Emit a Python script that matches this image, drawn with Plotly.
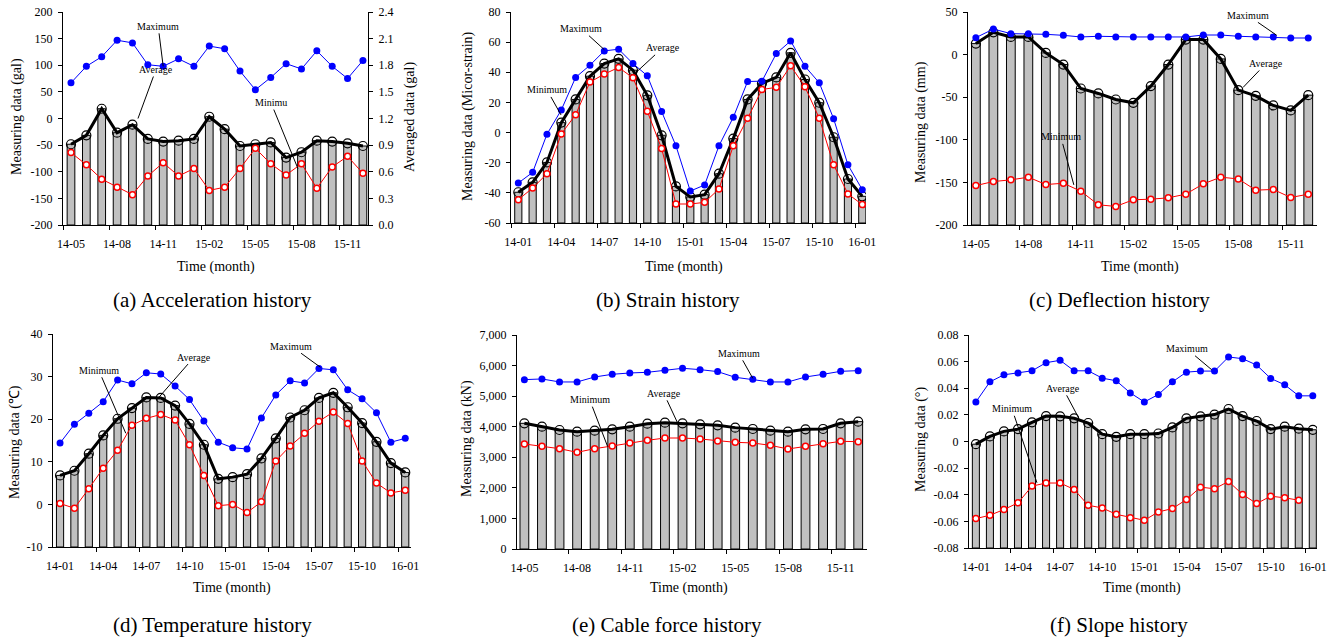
import plotly.graph_objects as go

W, H = 1337, 640

# ---------------- data ----------------
months_20 = ['14-05', '14-06', '14-07', '14-08', '14-09', '14-10', '14-11', '14-12',
             '15-01', '15-02', '15-03', '15-04', '15-05', '15-06', '15-07', '15-08',
             '15-09', '15-10', '15-11', '15-12']
months_25 = ['14-01', '14-02', '14-03', '14-04', '14-05', '14-06', '14-07', '14-08',
             '14-09', '14-10', '14-11', '14-12', '15-01', '15-02', '15-03', '15-04',
             '15-05', '15-06', '15-07', '15-08', '15-09', '15-10', '15-11', '15-12', '16-01']
tick_labels_20 = ['14-05', '14-08', '14-11', '15-02', '15-05', '15-08', '15-11']
tick_labels_25 = ['14-01', '14-04', '14-07', '14-10', '15-01', '15-04', '15-07', '15-10', '16-01']

# (a) acceleration
acc_max = [67, 98, 116, 147, 142, 101, 98, 112, 98, 136, 131, 89, 54, 77, 103, 93, 127, 98, 75, 109]
acc_min = [-64, -87, -114, -129, -143, -108, -83, -108, -94, -135, -129, -94, -56, -85, -106, -85,
           -131, -91, -71, -103]
acc_avg = [0.91, 1.01, 1.31, 1.04, 1.13, 0.97, 0.94, 0.95, 0.97, 1.22, 1.08, 0.89, 0.91, 0.93,
           0.76, 0.82, 0.95, 0.94, 0.92, 0.89]
# (b) strain
strain_max = [-33.5, -26.4, -1.1, 15, 36.6, 44.7, 54.2, 55.3, 45.8, 37.7, 13.9, -8.8, -38.8, -34.8,
              -8.8, 10.1, 33.9, 34.1, 52.4, 60.8, 44, 33, 9.2, -21.4, -37.9]
strain_avg = [-39.6, -33, -19.8, 6.6, 22, 37.4, 45.8, 48.9, 41.4, 24.7, -1.8, -35.7, -42.7, -41.2,
              -27.3, -4, 22, 32.6, 36.6, 52.9, 35.2, 19.8, -3.1, -30.8, -42.3]
strain_min = [-44.5, -36.8, -27.3, -0.9, 11.9, 33.5, 38.8, 43.2, 36.3, 14.1, -10.6, -47.4, -47.4,
              -46.3, -37.4, -8.8, 9.5, 28.6, 30, 44.3, 30.4, 9.5, -21.4, -40.7, -47.8]
# (c) deflection
defl_max = [19.9, 30, 24.6, 24.6, 23.8, 22.6, 20.7, 21.5, 20.7, 20.7, 20.7, 20.7, 20.7, 23, 23,
            21.5, 20.7, 20.7, 19.5, 19.5]
defl_avg = [12.9, 26.1, 20.7, 20.7, 2, -11.7, -39.8, -45.6, -52.7, -56.6, -37, -11.7, 17.6, 17.6,
            -5.1, -41.7, -48.4, -59.7, -65.5, -47.6]
defl_min = [-153.7, -149, -147, -143.9, -152.5, -151, -160.3, -176.3, -178.2, -170.4, -169.7,
            -168.1, -163.8, -151.7, -143.9, -145.9, -159.1, -158.3, -167.7, -163.8]
# (d) temperature
temp_max = [14.4, 18.8, 21.4, 24.1, 29.2, 28.3, 30.9, 30.6, 27.8, 24.6, 19.6, 14.6, 13.3, 13, 20.3,
            25.7, 29, 28.5, 31.9, 31.6, 26.9, 24.8, 21.5, 14.6, 15.5]
temp_avg = [6.8, 7.9, 11.9, 16.2, 20.1, 22.6, 25.1, 25, 23.2, 18.9, 14, 6, 6.4, 7.1, 10.8, 15.5,
            20.4, 22.1, 25, 26.2, 22.8, 19.1, 14.7, 9.7, 7.5]
temp_min = [0.2, -0.9, 3.7, 8.5, 12.7, 18.6, 20.2, 21.1, 19.8, 14, 6.8, -0.3, 0, -1.9, 0.6, 10.2,
            13.7, 16.7, 19.5, 21.7, 19, 10.2, 5, 2.7, 3.3]
# (e) cable force
cable_max = [5540, 5562, 5464, 5464, 5627, 5714, 5758, 5780, 5845, 5911, 5867, 5802, 5616, 5551,
             5464, 5464, 5627, 5714, 5812, 5834]
cable_avg = [4111, 4002, 3893, 3839, 3871, 3915, 4002, 4100, 4133, 4111, 4079, 4046, 3970, 3926,
             3871, 3839, 3915, 3926, 4111, 4166]
cable_min = [3435, 3359, 3282, 3162, 3282, 3370, 3468, 3555, 3631, 3631, 3599, 3533, 3490, 3468,
             3391, 3272, 3359, 3446, 3522, 3511]
# (f) slope
slope_max = [0.0297, 0.0448, 0.0501, 0.0514, 0.0531, 0.0592, 0.061, 0.0531, 0.0531, 0.0476, 0.0456,
             0.0365, 0.0297, 0.0353, 0.0448, 0.0521, 0.0529, 0.0529, 0.0635, 0.0622, 0.0574, 0.0474,
             0.0426, 0.0343, 0.0343]
slope_avg = [-0.002, 0.0038, 0.0076, 0.0093, 0.0144, 0.0191, 0.0189, 0.0174, 0.0139, 0.0055, 0.0035,
             0.0055, 0.0055, 0.006, 0.0106, 0.0174, 0.0189, 0.0202, 0.0244, 0.0191, 0.0154, 0.0093,
             0.0111, 0.0096, 0.0088]
slope_min = [-0.0579, -0.0554, -0.0511, -0.0461, -0.0335, -0.0312, -0.0312, -0.036, -0.0479, -0.0499,
             -0.0547, -0.0572, -0.0592, -0.0529, -0.0504, -0.0436, -0.0343, -0.0355, -0.03, -0.0398,
             -0.0466, -0.0411, -0.0423, -0.0441]

acc_yticks = [-200, -150, -100, -50, 0, 50, 100, 150, 200]
acc_y2ticks = [0.0, 0.3, 0.6, 0.9, 1.2, 1.5, 1.8, 2.1, 2.4]
strain_yticks = [-60, -40, -20, 0, 20, 40, 60, 80]
defl_yticks = [-200, -150, -100, -50, 0, 50]
temp_yticks = [-10, 0, 10, 20, 30, 40]
cable_yticks = [0, 1000, 2000, 3000, 4000, 5000, 6000, 7000]
slope_yticks = [-0.08, -0.06, -0.04, -0.02, 0, 0.02, 0.04, 0.06, 0.08]

# ---------------- styling / layout ----------------
FONT = "Liberation Serif"
BLACK = "#000000"


def px(x):
    return x / W


def py(y):
    return 1 - y / H


def fmt_int(v):
    return str(int(v))


def fmt_comma(v):
    return f"{int(v):,}"


def fmt_slope(v):
    return "0" if abs(v) < 1e-12 else f"{v:.2f}"


def fmt_1f(v):
    return f"{v:.1f}"


panels = [
    dict(months=months_20, ticks=tick_labels_20, mx=acc_max, avg=acc_avg, mn=acc_min,
         yt=acc_yticks, yfmt=fmt_int, xpx=(63, 368), ypx=(12, 225), xr=(-0.52, 19.33),
         ytitle="Measuring data (gal)", ytpos=(17, 117), xtpos=(216, 267),
         cap="(a) Acceleration history", cappos=(212, 300),
         ann=[("Maximum", 6, 98, -5, -40), ("Average", 4.36, 0, 18, -49),
              ("Minimu", 14.77, -94, -27, -66)]),
    dict(months=months_25, ticks=tick_labels_25, mx=strain_max, avg=strain_avg, mn=strain_min,
         yt=strain_yticks, yfmt=fmt_int, xpx=(511, 866), ypx=(12, 223), xr=(-0.51, 24.26),
         ytitle="Measuring data (Micor-strain)", ytpos=(468, 116), xtpos=(684, 267),
         cap="(b) Strain history", cappos=(668, 300),
         ann=[("Maximum", 6, 55, -23, -21), ("Average", 8.26, 40.3, 26, -24),
              ("Minimum", 2.98, 11.7, -14, -25)]),
    dict(months=months_20, ticks=tick_labels_20, mx=defl_max, avg=defl_avg, mn=defl_min,
         yt=defl_yticks, yfmt=fmt_int, xpx=(968, 1317), ypx=(12, 225), xr=(-0.45, 19.5),
         ytitle="Measuring data (mm)", ytpos=(921, 122), xtpos=(1140, 267),
         cap="(c) Deflection history", cappos=(1119, 300),
         ann=[("Maximum", 17.2, 22.6, -29, -20), ("Average", 15.27, -38.6, 23, -24),
              ("Minimum", 5.6, -152.9, -13, -48)]),
    dict(months=months_25, ticks=tick_labels_25, mx=temp_max, avg=temp_avg, mn=temp_min,
         yt=temp_yticks, yfmt=fmt_int, xpx=(53, 411), ypx=(334, 547), xr=(-0.49, 24.4),
         ytitle="Measuring data (\u2103)", ytpos=(15, 442), xtpos=(232, 588),
         cap="(d) Temperature history", cappos=(212, 625),
         ann=[("Minimum", 4.57, 16.7, -27, -63), ("Average", 6.89, 25.2, 35, -40),
              ("Maximum", 18.1, 32.2, -29, -21)]),
    dict(months=months_20, ticks=tick_labels_20, mx=cable_max, avg=cable_avg, mn=cable_min,
         yt=cable_yticks, yfmt=fmt_comma, xpx=(517, 867), ypx=(335, 549), xr=(-0.42, 19.5),
         ytitle="Measuring data (kN)", ytpos=(467, 439), xtpos=(689, 588),
         cap="(e) Cable force history", cappos=(667, 625),
         ann=[("Maximum", 13.0, 5583, -14, -25), ("Average", 8.73, 4111, -14, -30),
              ("Minimum", 4.74, 3348, -18, -47)]),
    dict(months=months_25, ticks=tick_labels_25, mx=slope_max, avg=slope_avg, mn=slope_min,
         yt=slope_yticks, yfmt=fmt_slope, xpx=(969, 1317), ypx=(335, 548), xr=(-0.49, 24.3),
         ytitle="Measuring data (\u00b0)", ytpos=(921, 440), xtpos=(1142, 588),
         cap="(f) Slope history", cappos=(1119, 625),
         ann=[("Maximum", 16.8, 0.0539, -25, -21), ("Average", 7.34, 0.0174, -16, -30),
              ("Minimum", 4.35, -0.031, -25, -74)]),
]

fig = go.Figure()
layout = dict(width=W, height=H, autosize=False,
              margin=dict(l=0, r=0, t=0, b=0, pad=0, autoexpand=False),
              paper_bgcolor="white", plot_bgcolor="white", showlegend=False,
              font=dict(family=FONT, color=BLACK, size=12), annotations=[])

tickfont = dict(family=FONT, size=12, color=BLACK)


def yaxis_cfg(ticks, fmt, **kw):
    d = dict(range=[ticks[0], ticks[-1]],
             showline=True, linecolor=BLACK, linewidth=1, showgrid=False, zeroline=False,
             tickmode="array", tickvals=ticks, ticktext=[fmt(v) for v in ticks],
             ticks="outside", ticklen=4, tickcolor=BLACK, ticklabelstandoff=3,
             tickfont=tickfont, fixedrange=True)
    d.update(kw)
    return d


for i, p in enumerate(panels, start=1):
    xa = "x" if i == 1 else f"x{i}"
    n = len(p["months"])
    xs = list(range(n))
    tickpos = [p["months"].index(t) for t in p["ticks"]]
    boundaries = [t - 0.5 for t in tickpos]
    ymin = p["yt"][0]
    dom_y = [py(p["ypx"][1]), py(p["ypx"][0])]

    if i == 1:
        # primary 'y' = right axis (averaged data), 'y7' = left axis drawn on top
        bar_axis, ya = "y", "y7"
        base = acc_y2ticks[0]
        layout["yaxis"] = yaxis_cfg(acc_y2ticks, fmt_1f, domain=dom_y, anchor="x", side="right")
        layout["yaxis7"] = yaxis_cfg(p["yt"], p["yfmt"], overlaying="y", anchor="x", side="left")
        x_anchor = "y"
    else:
        ya = f"y{i}"
        bar_axis = ya
        base = ymin
        layout[f"yaxis{i}"] = yaxis_cfg(p["yt"], p["yfmt"], domain=dom_y, anchor=xa)
        x_anchor = ya

    layout[f"xaxis{'' if i == 1 else i}"] = dict(
        domain=[px(p["xpx"][0]), px(p["xpx"][1])], range=list(p["xr"]), anchor=x_anchor,
        showline=True, linecolor=BLACK, linewidth=1, showgrid=False, zeroline=False,
        tickmode="array", tickvals=tickpos, ticktext=p["ticks"], ticks="",
        ticklabelstandoff=8, tickfont=tickfont, fixedrange=True,
        minor=dict(tickmode="array", tickvals=boundaries, ticks="outside", ticklen=4,
                   tickcolor=BLACK, tickwidth=1, showgrid=False))

    fig.add_trace(go.Bar(x=xs, y=[v - base for v in p["avg"]], base=base, xaxis=xa, yaxis=bar_axis,
                         width=0.5, marker=dict(color="#c0c0c0", line=dict(color=BLACK, width=1))))
    fig.add_trace(go.Scatter(x=xs, y=p["avg"], xaxis=xa, yaxis=bar_axis, mode="lines+markers",
                             line=dict(color=BLACK, width=3),
                             marker=dict(symbol="circle-open", size=9, color=BLACK,
                                         line=dict(width=1.2, color=BLACK))))
    fig.add_trace(go.Scatter(x=xs, y=p["mx"], xaxis=xa, yaxis=ya, mode="lines+markers",
                             line=dict(color="#0000ff", width=1),
                             marker=dict(symbol="circle", size=7, color="#0000ff")))
    fig.add_trace(go.Scatter(x=list(range(len(p["mn"]))), y=p["mn"], xaxis=xa, yaxis=ya,
                             mode="lines+markers", line=dict(color="#ff0000", width=1),
                             marker=dict(symbol="circle", size=6, color="white",
                                         line=dict(color="#ff0000", width=1.5))))

    # leader-line labels
    for text, ax_x, ax_y, dx, dy in p["ann"]:
        layout["annotations"].append(dict(
            text=text, x=ax_x, y=ax_y, xref=xa, yref=ya, ax=dx, ay=dy, axref="pixel", ayref="pixel",
            showarrow=True, arrowhead=0, arrowwidth=1, arrowcolor=BLACK, standoff=0,
            font=dict(family=FONT, size=10, color=BLACK)))

    # axis titles and caption
    layout["annotations"].append(dict(
        text=p["ytitle"], x=px(p["ytpos"][0]), y=py(p["ytpos"][1]), xref="paper", yref="paper",
        showarrow=False, textangle=-90, xanchor="center", yanchor="middle",
        font=dict(family=FONT, size=14, color=BLACK)))
    layout["annotations"].append(dict(
        text="Time (month)", x=px(p["xtpos"][0]), y=py(p["xtpos"][1]), xref="paper", yref="paper",
        showarrow=False, xanchor="center", yanchor="middle",
        font=dict(family=FONT, size=14, color=BLACK)))
    layout["annotations"].append(dict(
        text=p["cap"], x=px(p["cappos"][0]), y=py(p["cappos"][1]), xref="paper", yref="paper",
        showarrow=False, xanchor="center", yanchor="middle",
        font=dict(family=FONT, size=21, color=BLACK)))

layout["annotations"].append(dict(
    text="Averaged data (gal)", x=px(410), y=py(117), xref="paper", yref="paper",
    showarrow=False, textangle=-90, xanchor="center", yanchor="middle",
    font=dict(family=FONT, size=14, color=BLACK)))

fig.update_layout(**layout)
fig.write_html("out.html", config={"displayModeBar": False},
               post_script="document.body.style.margin='0px';document.body.style.overflow='hidden';")
